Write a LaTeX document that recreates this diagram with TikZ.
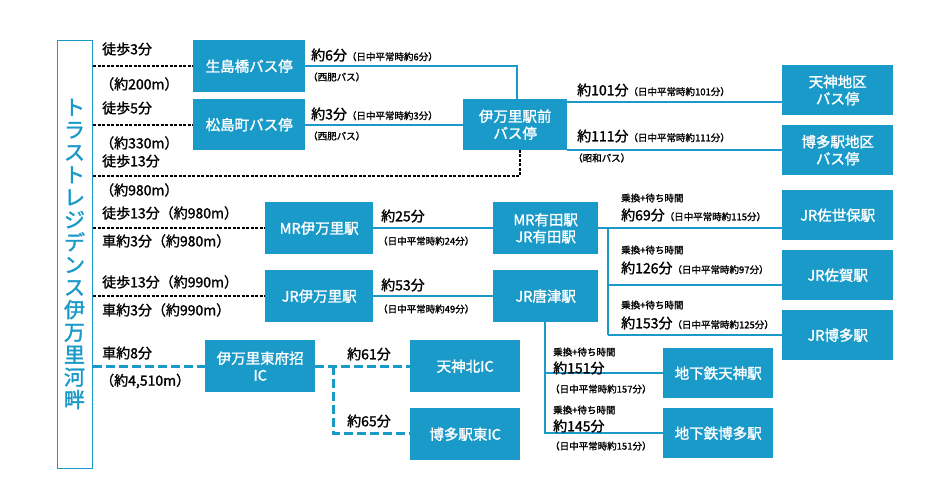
\documentclass[tikz,border=0pt]{standalone}
\usepackage{fontspec}
\setmainfont{Noto Sans CJK JP}
\newfontfamily\bjp{Noto Sans CJK JP}[FakeBold=1.5]
\definecolor{cb}{HTML}{1A9AC9}
\begin{document}
\begin{tikzpicture}[x=1pt,y=-1pt,
 bx/.style={fill=cb,text=white,font=\bjp\fontsize{14.5}{17}\selectfont,align=center,inner sep=0pt,anchor=north west},
 dl/.style={black,dash pattern=on 3pt off 1.5pt,line width=2.6pt},
 sl/.style={cb,line width=2.2pt},
 ds/.style={cb,dash pattern=on 9pt off 4pt,line width=3pt},
 lab/.style={font=\bjp\fontsize{14}{15}\selectfont,anchor=west,inner sep=0pt},
 sm/.style={font=\bjp\fontsize{9.5}{10}\selectfont,inner sep=0pt}]
\useasboundingbox (0,0) rectangle (950,500);
\newcommand\B[6]{\node[bx,minimum width=#4-#2,minimum height=#5-#3] (#1) at (#2,#3) {#6};}
\newcommand\Sm[1]{{\fontsize{9.5}{10}\selectfont #1}}
\node[draw=cb,line width=1.2pt,fill=white,anchor=north west,minimum width=35,minimum height=428,inner sep=0pt] (home) at (57,40) {};
\node[text=cb,font=\bjp\fontsize{21}{22.5}\selectfont,align=center] (ht) at (74.5,254) {ト\\ラ\\ス\\ト\\レ\\ジ\\デ\\ン\\ス\\伊\\万\\里\\河\\畔};
\B{ik}{193}{40}{305}{92}{生島橋バス停}
\B{ma}{193}{99}{305}{150}{松島町バス停}
\B{im}{463}{99}{567}{150}{伊万里駅前\\バス停}
\B{te}{782}{65}{893}{115}{天神地区\\バス停}
\B{ha}{782}{125}{893}{175}{博多駅地区\\バス停}
\B{mr}{265}{202}{373}{254}{MR伊万里駅}
\B{ar}{493}{202}{598}{254}{MR有田駅\\JR有田駅}
\B{sa}{782}{190}{893}{240}{JR佐世保駅}
\B{ji}{265}{270}{373}{322}{JR伊万里駅}
\B{ka}{493}{270}{598}{322}{JR唐津駅}
\B{sg}{782}{250}{893}{300}{JR佐賀駅}
\B{jh}{782}{310}{893}{360}{JR博多駅}
\B{ic}{205}{340}{315}{392}{伊万里東府招\\IC}
\B{tk}{410}{340}{520}{392}{天神北IC}
\B{he}{410}{408}{520}{460}{博多駅東IC}
\B{st}{663}{348}{773}{398}{地下鉄天神駅}
\B{sh}{663}{408}{773}{458}{地下鉄博多駅}
% walking
\draw[dl] (home.east|-0,66) -- (ik.west|-0,66);
\draw[dl] (home.east|-0,125) -- (ma.west|-0,125);
\draw[dl] (home.east|-0,176) -- (520,176) -- (im.south-|520,0);
\draw[dl] (home.east|-0,228) -- (mr.west|-0,228);
\draw[dl] (home.east|-0,296) -- (ji.west|-0,296);
\draw[ds] (home.east|-0,366) -- (ic.west|-0,366);
\node[lab] at (102,49) {徒歩3分}; \node[lab] at (100,84) {（約200m）};
\node[lab] at (102,108) {徒歩5分}; \node[lab] at (100,143) {（約330m）};
\node[lab] at (102,161) {徒歩13分}; \node[lab] at (100,190) {（約980m）};
\node[lab] at (102,213) {徒歩13分（約980m）}; \node[lab] at (102,241) {車約3分（約980m）};
\node[lab] at (102,282) {徒歩13分（約990m）}; \node[lab] at (102,310) {車約3分（約990m）};
\node[lab] at (102,353) {車約8分}; \node[lab] at (100,381) {（約4,510m）};
% bus
\draw[sl] (ik.east|-0,66) -- (517,66) -- (im.north-|517,0);
\draw[sl] (ma.east|-0,125) -- (im.west|-0,125);
\draw[sl] (im.east|-0,102) -- (te.west|-0,102);
\draw[sl] (im.east|-0,150) -- (ha.west|-0,150);
\node[lab] at (311,55) {約6分\Sm{（日中平常時約6分）}}; \node[sm,anchor=west] at (308,77) {（西肥バス）};
\node[lab] at (311,114) {約3分\Sm{（日中平常時約3分）}}; \node[sm,anchor=west] at (308,136) {（西肥バス）};
\node[lab] at (577,90) {約101分\Sm{（日中平常時約101分）}}; \node[sm,anchor=west] at (573,158) {（昭和バス）};
\node[lab] at (577,136) {約111分\Sm{（日中平常時約111分）}};
% rail
\draw[sl] (mr) -- (ar);
\draw[sl] (ji) -- (ka);
\node[lab] at (381,216) {約25分}; \node[sm,anchor=west] at (378,241) {（日中平常時約24分）};
\node[lab] at (381,285) {約53分}; \node[sm,anchor=west] at (378,309) {（日中平常時約49分）};
\draw[sl] (ar.east|-0,228) -- (sa.west|-0,228);
\draw[sl] (608,228) -- (608,335);
\draw[sl] (608,285) -- (sg.west|-0,285);
\draw[sl] (608,335) -- (jh.west|-0,335);
\node[sm,anchor=west] at (621,198) {乗換+待ち時間}; \node[lab] at (621,215) {約69分\Sm{（日中平常時約115分）}};
\node[sm,anchor=west] at (621,250) {乗換+待ち時間}; \node[lab] at (621,268) {約126分\Sm{（日中平常時約97分）}};
\node[sm,anchor=west] at (621,305) {乗換+待ち時間}; \node[lab] at (621,323) {約153分\Sm{（日中平常時約125分）}};
\draw[sl] (ka.south-|545,0) -- (545,433) -- (sh.west|-0,433);
\draw[sl] (545,373) -- (st.west|-0,373);
\node[sm,anchor=west] at (553,352) {乗換+待ち時間}; \node[lab] at (553,368) {約151分}; \node[sm,anchor=west] at (550,389) {（日中平常時約157分）};
\node[sm,anchor=west] at (553,410) {乗換+待ち時間}; \node[lab] at (553,426) {約145分}; \node[sm,anchor=west] at (550,446) {（日中平常時約151分）};
% car
\draw[ds] (ic.east|-0,366) -- (tk.west|-0,366);
\draw[ds] (333,366) -- (333,433) -- (he.west|-0,433);
\node[lab] at (347,354) {約61分};
\node[lab] at (347,421) {約65分};
\end{tikzpicture}
\end{document}
